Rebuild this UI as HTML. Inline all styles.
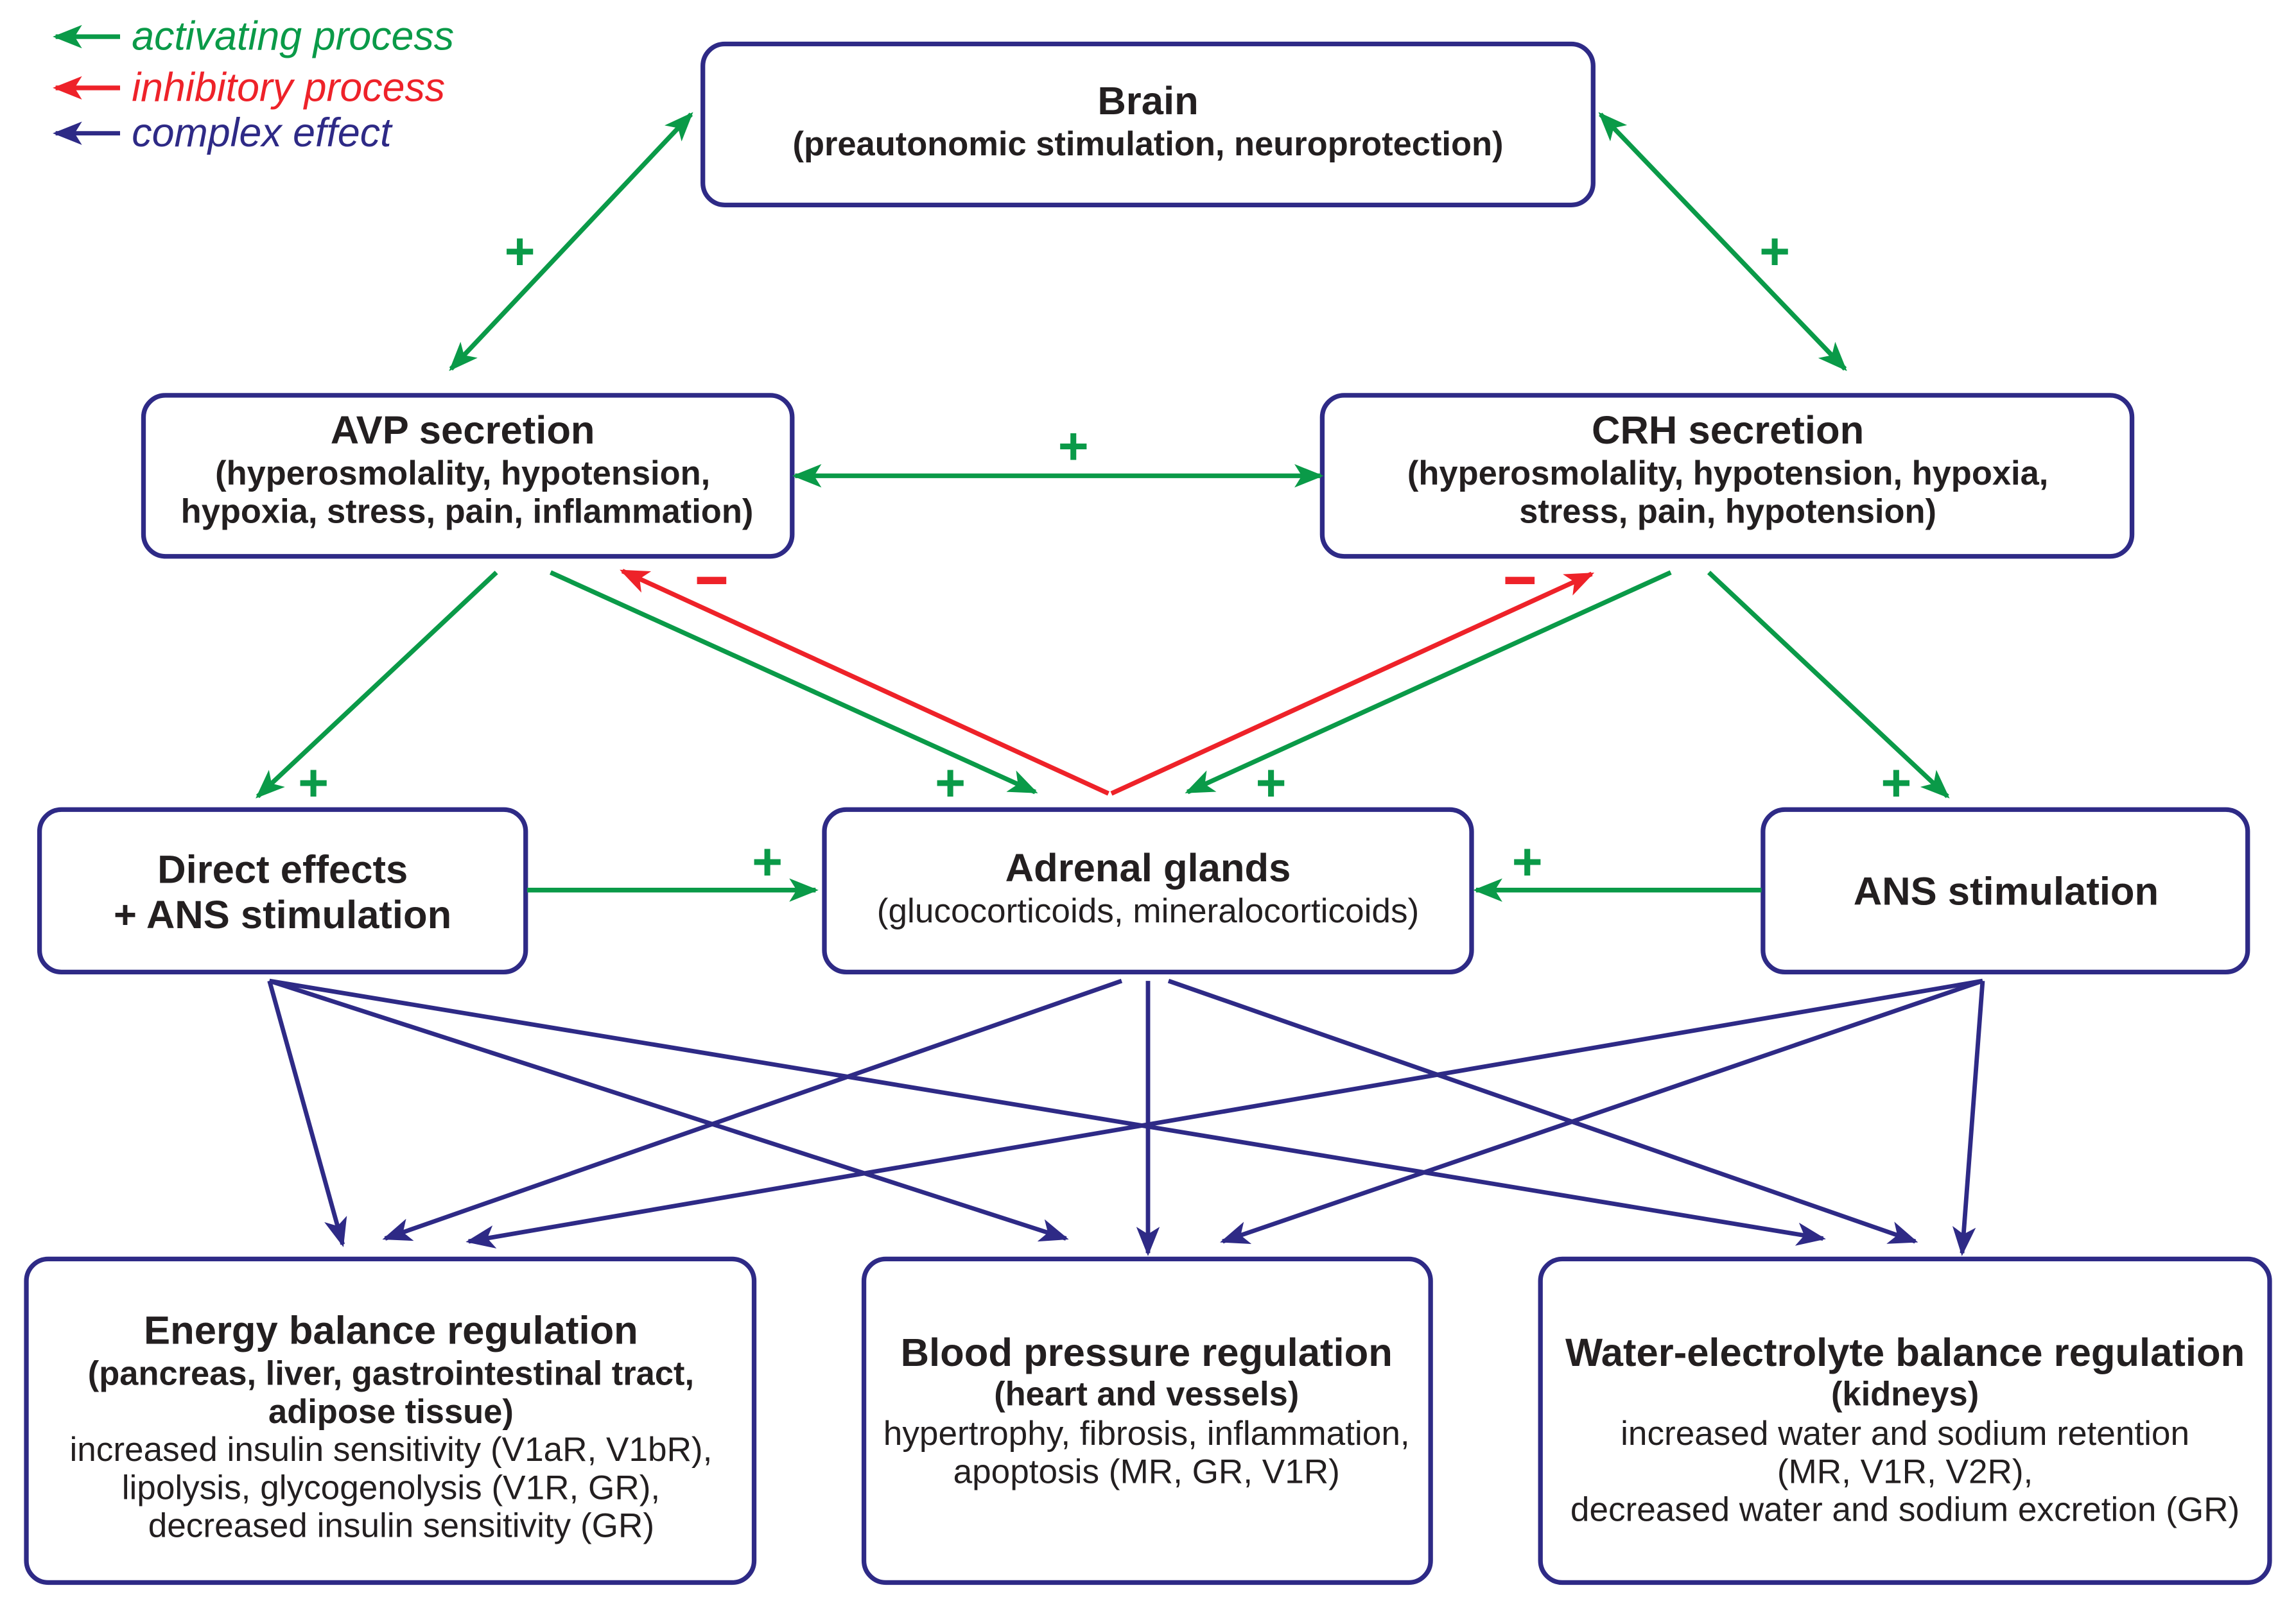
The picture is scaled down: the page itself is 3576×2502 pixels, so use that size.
<!DOCTYPE html>
<html><head><meta charset="utf-8"><style>
html,body{margin:0;padding:0;background:#fff;}
svg{display:block;}
text{font-family:"Liberation Sans",Arial,sans-serif;fill:#231f20;}
.t{font-weight:bold;font-size:27px;}
.b{font-weight:bold;font-size:23px;}
.r{font-size:23.3px;}
.box{fill:#fff;stroke:#2e2a86;stroke-width:3.2;}
.g{stroke:#0a9a48;stroke-width:3.2;fill:none;}
.rd{stroke:#ee2229;stroke-width:3.2;fill:none;}
.n{stroke:#2e2a86;stroke-width:3;fill:none;}
.pg{fill:#0a9a48;font-weight:bold;font-size:36px;}
.m{fill:#ee2229;}
</style></head><body>
<svg width="3576" height="2502" viewBox="0 0 1568 1097" xmlns="http://www.w3.org/2000/svg">
<defs>
<marker id="ag" markerUnits="userSpaceOnUse" markerWidth="20" markerHeight="16" refX="18" refY="8" orient="auto-start-reverse"><path d="M0,0 L20,8 L0,16 L5,8 Z" fill="#0a9a48"/></marker>
<marker id="ar" markerUnits="userSpaceOnUse" markerWidth="20" markerHeight="16" refX="18" refY="8" orient="auto-start-reverse"><path d="M0,0 L20,8 L0,16 L5,8 Z" fill="#ee2229"/></marker>
<marker id="an" markerUnits="userSpaceOnUse" markerWidth="20" markerHeight="16" refX="18" refY="8" orient="auto-start-reverse"><path d="M0,0 L20,8 L0,16 L5,8 Z" fill="#2e2a86"/></marker>
</defs>

<line class="g" x1="82" y1="25" x2="38" y2="25" marker-end="url(#ag)"/>
<line class="rd" x1="82" y1="60" x2="38" y2="60" marker-end="url(#ar)"/>
<line class="n" x1="82" y1="91" x2="38" y2="91" marker-end="url(#an)"/>
<text x="90" y="34" style="font-style:italic;font-size:27.5px;fill:#0a9a48">activating process</text>
<text x="90" y="69" style="font-style:italic;font-size:27.5px;fill:#ee2229">inhibitory process</text>
<text x="90" y="100" style="font-style:italic;font-size:27.5px;fill:#2e2a86">complex effect</text>

<rect class="box" x="480" y="30" width="608" height="110" rx="15"/>
<rect class="box" x="98" y="270" width="443" height="110" rx="15"/>
<rect class="box" x="903" y="270" width="553" height="110" rx="15"/>
<rect class="box" x="27" y="553" width="332" height="111" rx="15"/>
<rect class="box" x="563" y="553" width="442" height="111" rx="15"/>
<rect class="box" x="1204" y="553" width="331" height="111" rx="15"/>
<rect class="box" x="18" y="860" width="497" height="221" rx="15"/>
<rect class="box" x="590" y="860" width="387" height="221" rx="15"/>
<rect class="box" x="1052" y="860" width="498" height="221" rx="15"/>

<g text-anchor="middle">
<text class="t" x="784" y="78">Brain</text>
<text class="b" x="784" y="106">(preautonomic stimulation, neuroprotection)</text>
<text class="t" x="316" y="303">AVP secretion</text>
<text class="b" x="316" y="331">(hyperosmolality, hypotension,</text>
<text class="b" x="319" y="357">hypoxia, stress, pain, inflammation)</text>
<text class="t" x="1180" y="303">CRH secretion</text>
<text class="b" x="1180" y="331">(hyperosmolality, hypotension, hypoxia,</text>
<text class="b" x="1180" y="357">stress, pain, hypotension)</text>
<text class="t" x="193" y="603">Direct effects</text>
<text class="t" x="193" y="634">+ ANS stimulation</text>
<text class="t" x="784" y="602">Adrenal glands</text>
<text class="r" x="784" y="630">(glucocorticoids, mineralocorticoids)</text>
<text class="t" x="1370" y="618">ANS stimulation</text>
<text class="t" x="267" y="918">Energy balance regulation</text>
<text class="b" x="267" y="946">(pancreas, liver, gastrointestinal tract,</text>
<text class="b" x="267" y="972">adipose tissue)</text>
<text class="r" x="267" y="998">increased insulin sensitivity (V1aR, V1bR),</text>
<text class="r" x="267" y="1024">lipolysis, glycogenolysis (V1R, GR),</text>
<text class="r" x="274" y="1050">decreased insulin sensitivity (GR)</text>
<text class="t" x="783" y="933">Blood pressure regulation</text>
<text class="b" x="783" y="960">(heart and vessels)</text>
<text class="r" x="783" y="987">hypertrophy, fibrosis, inflammation,</text>
<text class="r" x="783" y="1013">apoptosis (MR, GR, V1R)</text>
<text class="t" x="1301" y="933">Water-electrolyte balance regulation</text>
<text class="b" x="1301" y="960">(kidneys)</text>
<text class="r" x="1301" y="987">increased water and sodium retention</text>
<text class="r" x="1301" y="1013">(MR, V1R, V2R),</text>
<text class="r" x="1301" y="1039">decreased water and sodium excretion (GR)</text>
</g>

<line class="g" x1="472" y1="78" x2="308" y2="252" marker-start="url(#ag)" marker-end="url(#ag)"/>
<line class="g" x1="1093" y1="78" x2="1260" y2="252" marker-start="url(#ag)" marker-end="url(#ag)"/>
<line class="g" x1="543" y1="325" x2="902" y2="325" marker-start="url(#ag)" marker-end="url(#ag)"/>
<line class="g" x1="339" y1="391" x2="176" y2="544" marker-end="url(#ag)"/>
<line class="g" x1="376" y1="391" x2="707" y2="541" marker-end="url(#ag)"/>
<line class="g" x1="1141" y1="391" x2="811" y2="541" marker-end="url(#ag)"/>
<line class="g" x1="1167" y1="391" x2="1330" y2="544" marker-end="url(#ag)"/>
<line class="g" x1="360" y1="608" x2="557" y2="608" marker-end="url(#ag)"/>
<line class="g" x1="1203" y1="608" x2="1008" y2="608" marker-end="url(#ag)"/>
<line class="rd" x1="757" y1="542" x2="425" y2="390" marker-end="url(#ar)"/>
<line class="rd" x1="759" y1="542" x2="1087" y2="392" marker-end="url(#ar)"/>
<rect class="m" x="476" y="394" width="20" height="5"/>
<rect class="m" x="1028" y="394" width="20" height="5"/>
<g text-anchor="middle">
<text class="pg" x="355" y="184">+</text>
<text class="pg" x="1212" y="184">+</text>
<text class="pg" x="733" y="317">+</text>
<text class="pg" x="214" y="547">+</text>
<text class="pg" x="649" y="547">+</text>
<text class="pg" x="868" y="547">+</text>
<text class="pg" x="1295" y="547">+</text>
<text class="pg" x="524" y="601">+</text>
<text class="pg" x="1043" y="601">+</text>
</g>

<line class="n" x1="184" y1="670" x2="234" y2="850" marker-end="url(#an)"/>
<line class="n" x1="184" y1="670" x2="728" y2="846" marker-end="url(#an)"/>
<line class="n" x1="184" y1="670" x2="1245" y2="846" marker-end="url(#an)"/>
<line class="n" x1="766" y1="670" x2="263" y2="846" marker-end="url(#an)"/>
<line class="n" x1="784" y1="670" x2="784" y2="856" marker-end="url(#an)"/>
<line class="n" x1="798" y1="670" x2="1308" y2="848" marker-end="url(#an)"/>
<line class="n" x1="1354" y1="670" x2="320" y2="848" marker-end="url(#an)"/>
<line class="n" x1="1354" y1="670" x2="835" y2="848" marker-end="url(#an)"/>
<line class="n" x1="1354" y1="670" x2="1340" y2="856" marker-end="url(#an)"/>
</svg>
</body></html>
